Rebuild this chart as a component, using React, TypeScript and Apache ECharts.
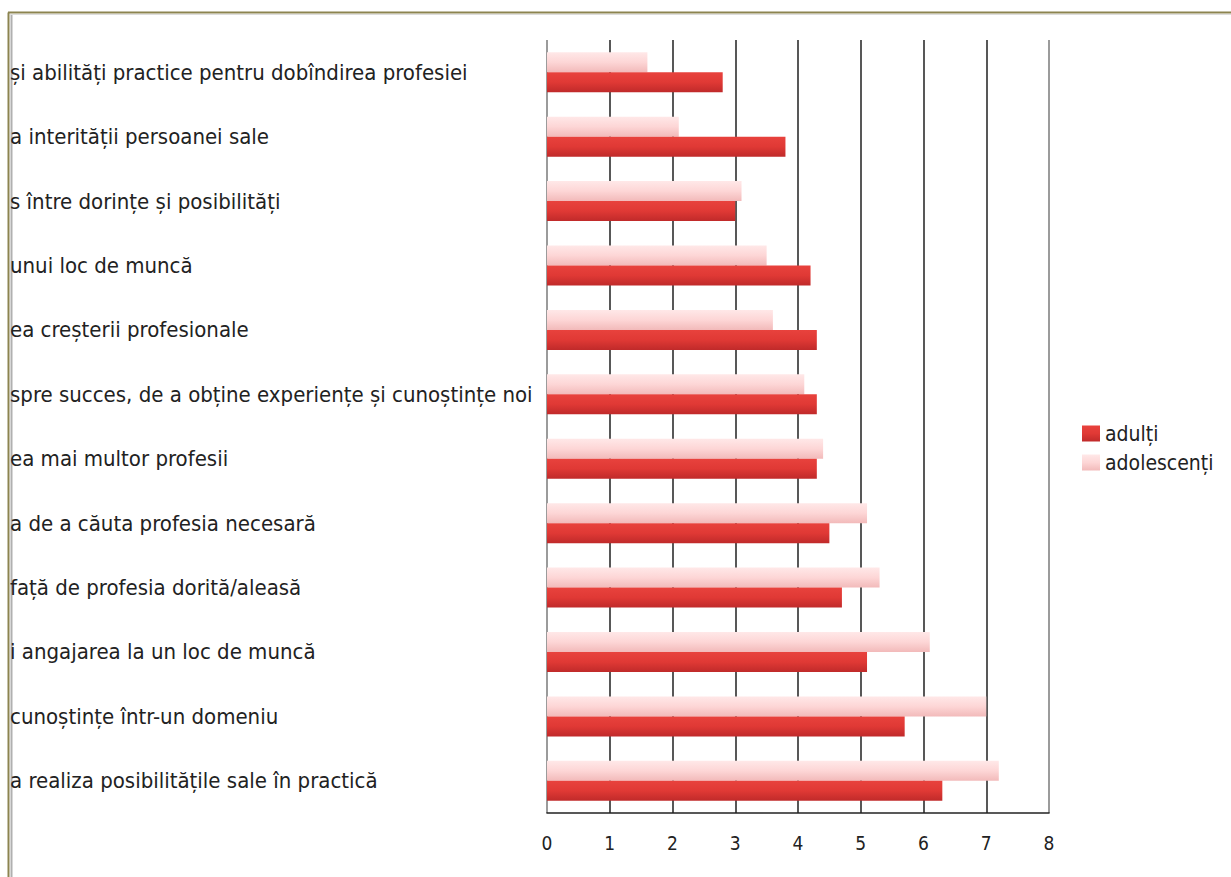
import React, { useEffect, useRef } from "react";
import * as echarts from "echarts";

const categories = [
  "și abilități practice pentru dobîndirea profesiei",
  "a interității persoanei sale",
  "s între dorințe și posibilități",
  "unui loc de muncă",
  "ea creșterii profesionale",
  "spre succes, de a obține experiențe și cunoștințe noi",
  "ea mai multor profesii",
  "a de a căuta profesia necesară",
  "față de profesia dorită/aleasă",
  "i angajarea la un loc de muncă",
  "cunoștințe într-un domeniu",
  "a realiza posibilitățile sale în practică",
];
const adulti = [2.8, 3.8, 3.0, 4.2, 4.3, 4.3, 4.3, 4.5, 4.7, 5.1, 5.7, 6.3];
const adolescenti = [1.6, 2.1, 3.1, 3.5, 3.6, 4.1, 4.4, 5.1, 5.3, 6.1, 7.0, 7.2];
const xTicks = [0, 1, 2, 3, 4, 5, 6, 7, 8];

const FONT = "'DejaVu Sans Condensed', 'Liberation Sans', sans-serif";

export default function App() {
  const ref = useRef<HTMLDivElement>(null);
  useEffect(() => {
    if (!ref.current) return;
    const chart = echarts.init(ref.current, null, { renderer: "svg" });
    const redGrad = new echarts.graphic.LinearGradient(0, 0, 0, 1, [
      { offset: 0, color: "#e8423d" },
      { offset: 0.5, color: "#e03935" },
      { offset: 1, color: "#c02a2a" },
    ]);
    const pinkGrad = new echarts.graphic.LinearGradient(0, 0, 0, 1, [
      { offset: 0, color: "#ffe8e8" },
      { offset: 0.5, color: "#fdd6d6" },
      { offset: 1, color: "#f2baba" },
    ]);
    const gridColors = xTicks.map((t) => (t === 0 || t === 8 ? "#8a8a8a" : "#3a3a3a"));
    chart.setOption({
      animation: false,
      backgroundColor: "#ffffff",
      textStyle: { fontFamily: FONT },
      grid: { left: 547, right: 182, top: 40, bottom: 64, containLabel: false },
      legend: {
        orient: "vertical",
        left: 1082,
        top: 423,
        padding: 0,
        itemWidth: 18,
        itemHeight: 16,
        itemGap: 8,
        icon: "rect",
        data: ["adulți", "adolescenți"],
        textStyle: { fontFamily: FONT, fontSize: 21, color: "#222" },
      },
      xAxis: {
        type: "value",
        min: 0,
        max: 8,
        interval: 1,
        axisLine: { show: true, lineStyle: { color: "#222", width: 1.6 } },
        axisTick: { show: false },
        axisLabel: {
          margin: 20,
          fontFamily: FONT,
          fontSize: 19,
          color: "#222",
        },
        splitLine: { show: true, lineStyle: { color: gridColors, width: 1.7 } },
      },
      yAxis: {
        type: "category",
        data: categories,
        inverse: true,
        axisLine: { show: false },
        axisTick: { show: false },
        splitLine: { show: false },
        axisLabel: {
          align: "left",
          margin: 537,
          fontFamily: FONT,
          fontSize: 22,
          color: "#222",
        },
      },
      series: [
        {
          name: "adolescenți",
          type: "bar",
          data: adolescenti,
          barWidth: 20,
          barGap: "0%",
          itemStyle: { color: pinkGrad },
        },
        {
          name: "adulți",
          type: "bar",
          data: adulti,
          barWidth: 20,
          barGap: "0%",
          itemStyle: { color: redGrad },
        },
      ],
      graphic: [
        { type: "line", shape: { x1: 8.5, y1: 12.5, x2: 8.5, y2: 877 }, style: { stroke: "#8c8450", lineWidth: 2 } },
        { type: "line", shape: { x1: 8, y1: 12.5, x2: 1231, y2: 12.5 }, style: { stroke: "#8c8450", lineWidth: 2 } },
        { type: "line", shape: { x1: 11.5, y1: 14, x2: 11.5, y2: 877 }, style: { stroke: "#b0b0b0", lineWidth: 2 } },
        { type: "line", shape: { x1: 10, y1: 14.5, x2: 1231, y2: 14.5 }, style: { stroke: "#dddddd", lineWidth: 1 } },
      ],
    });
    return () => chart.dispose();
  }, []);
  return (
    <div
      ref={ref}
      style={{ position: "fixed", left: 0, top: 0, width: 1231, height: 877 }}
    />
  );
}
